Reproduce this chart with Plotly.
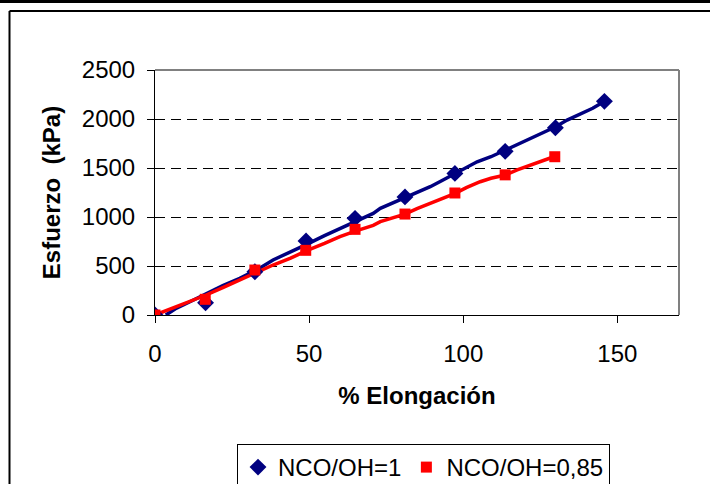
import plotly.graph_objects as go

# Marker series (measured points)
x_blue = [0, 16.4, 32.4, 49.0, 64.9, 81.1, 97.3, 113.6, 129.9, 145.8]
y_blue = [0, 125, 442, 755, 986, 1205, 1445, 1670, 1910, 2180]
x_red = [0, 16.3, 32.4, 48.9, 64.9, 81.1, 97.3, 113.6, 129.7]
y_red = [0, 160, 459, 660, 874, 1030, 1245, 1430, 1615]

# Continuous curves (raw test traces)
xl_blue = [3.5, 7, 11, 16.6, 22, 27.5, 33, 38.3, 44, 49.2, 55, 60, 65, 70.8, 73.1,
           77, 81.1, 85, 89.3, 93, 97.4, 101, 104.5, 109, 113.7, 117.5, 121.8,
           126, 130, 133.7, 138.1, 142, 145.6]
yl_blue = [0, 70, 130, 220, 300, 374, 460, 561, 640, 721, 810, 884, 955, 1037, 1088,
           1140, 1200, 1250, 1309, 1370, 1445, 1500, 1564, 1615, 1683, 1735, 1803,
           1860, 1921, 1989, 2057, 2110, 2176]
xl_red = [0, 5.8, 11, 16.6, 22, 27.5, 33, 38.3, 44, 49.2, 55, 60, 65, 70.8, 73.1,
          77, 81.1, 85, 89.3, 93, 97.4, 101, 105.5, 109, 113.7, 117.5, 121.8, 126, 129.4]
yl_red = [0, 71, 140, 204, 280, 357, 430, 510, 580, 656, 730, 799, 855, 915, 952,
          990, 1030, 1085, 1139, 1190, 1241, 1300, 1360, 1395, 1428, 1480, 1530, 1575, 1615]

x_ticks = [0, 50, 100, 150]
y_ticks = [0, 500, 1000, 1500, 2000, 2500]

BLUE = "#000080"
RED = "#FF0000"
FONT = "Arial, Liberation Sans, sans-serif"

fig = go.Figure()
fig.add_trace(go.Scatter(x=xl_blue, y=yl_blue, mode="lines",
                         line=dict(color=BLUE, width=3.5), showlegend=False, hoverinfo="skip"))
fig.add_trace(go.Scatter(x=xl_red, y=yl_red, mode="lines",
                         line=dict(color=RED, width=3.5), showlegend=False, hoverinfo="skip"))
fig.add_trace(go.Scatter(x=x_blue, y=y_blue, mode="markers", name="NCO/OH=1",
                         marker=dict(symbol="diamond", size=13, color=BLUE)))
fig.add_trace(go.Scatter(x=x_red, y=y_red, mode="markers", name="NCO/OH=0,85",
                         marker=dict(symbol="square", size=11, color=RED)))

L, R, T, B = 155, 31, 70, 169
W, H = 710, 484
pw = W - L - R
ph = H - T - B

def px2fx(px):
    return (px - L) / pw

def py2fy(py):
    return 1 - (py - T) / ph

shapes = [
    # top black line of page
    dict(type="line", xref="paper", yref="paper", x0=px2fx(-5), x1=px2fx(720),
         y0=py2fy(1.5), y1=py2fy(1.5), line=dict(color="black", width=3)),
    # chart frame left and top
    dict(type="line", xref="paper", yref="paper", x0=px2fx(9.5), x1=px2fx(9.5),
         y0=py2fy(11), y1=py2fy(495), line=dict(color="black", width=2)),
    dict(type="line", xref="paper", yref="paper", x0=px2fx(9.5), x1=px2fx(720),
         y0=py2fy(11), y1=py2fy(11), line=dict(color="black", width=2)),
    # plot area border (top, right) gray
    dict(type="line", xref="paper", yref="paper", x0=0, x1=1, y0=1, y1=1,
         line=dict(color="#808080", width=2)),
    dict(type="line", xref="paper", yref="paper", x0=1, x1=1, y0=0, y1=1,
         line=dict(color="#808080", width=2)),
]

fig.update_layout(
    width=W, height=H,
    margin=dict(l=L, r=R, t=T, b=B, autoexpand=False),
    paper_bgcolor="white", plot_bgcolor="white",
    font=dict(family=FONT, size=24, color="black"),
    shapes=shapes,
    legend=dict(orientation="h", x=px2fx(237), y=py2fy(444), xanchor="left", yanchor="top",
                bordercolor="black", borderwidth=1, bgcolor="white",
                font=dict(size=24, family=FONT), itemwidth=30,
                tracegroupgap=0),
    xaxis=dict(range=[0, 170], tickvals=x_ticks, ticks="outside", ticklen=7,
               tickcolor="black", showline=True, linecolor="black", linewidth=1,
               showgrid=False, zeroline=False, ticklabelstandoff=10,
               title=dict(text="<b>% Elongación</b>", font=dict(size=24, family=FONT), standoff=21)),
    yaxis=dict(range=[0, 2500], tickvals=y_ticks, ticks="outside", ticklen=7,
               tickcolor="black", showline=True, linecolor="black", linewidth=1,
               showgrid=True, gridcolor="black", griddash="10px,6px", gridwidth=1,
               zeroline=False, ticklabelstandoff=7,
               title=dict(text="<b>Esfuerzo  (kPa)</b>", font=dict(size=24, family=FONT), standoff=14)),
)

fig.write_html("out.html")
